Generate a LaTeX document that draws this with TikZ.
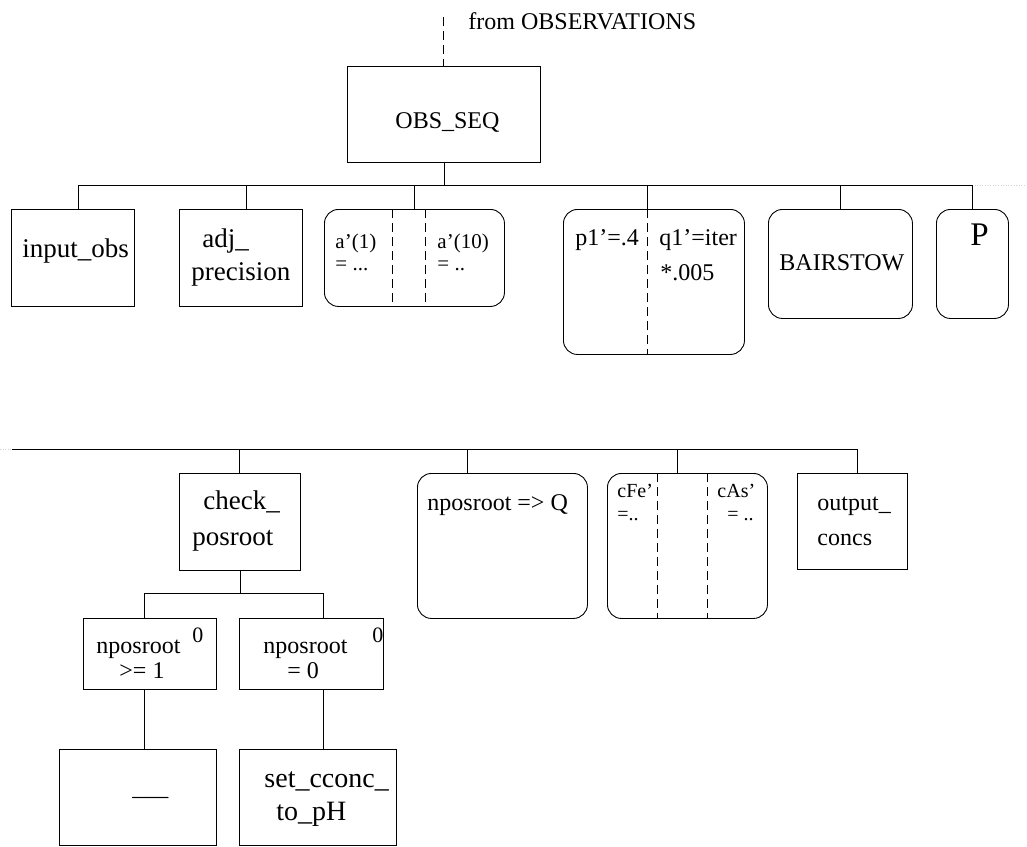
\documentclass[tikz,border=0pt]{standalone}
\usepackage{fontspec}
\setmainfont{Liberation Serif}
\usetikzlibrary{positioning, calc}

\begin{document}
\begin{tikzpicture}[x=1pt, y=-1pt, line width=0.9pt,
    box/.style={draw, anchor=north west, inner sep=0pt},
    rbox/.style={box, rounded corners=14pt},
    txt/.style={anchor=base west, inner sep=0pt, font=\fontsize{24}{28}\selectfont},
    bigtxt/.style={txt, font=\fontsize{27}{32}\selectfont},
    smalltxt/.style={txt, font=\fontsize{21}{24}\selectfont},
    split/.style={dash pattern=on 9pt off 5pt},
    faint/.style={gray!35, dotted, line width=0.6pt}]
    \useasboundingbox (0,0) rectangle (1027,846);

    % top node
    \node[box, minimum width=193, minimum height=96] (obsseq) at (347,66) {};
    \node[txt] (obsseqlbl) at (395,128) {OBS\_SEQ};
    \coordinate (obsin) at (443.5,17);
    \draw[split] (obsin) -- (obsin |- obsseq.north);
    \node[txt] (fromobs) at (468,29) {from OBSERVATIONS};

    % upper row
    \coordinate (busL) at (78,185);
    \coordinate (busR) at (972,185);
    \draw (obsseq.south) -- (obsseq.south |- busL);
    \draw (busL) -- (busR);
    \draw[faint] (busR) -- (1027,185);

    \node[box, minimum width=123, minimum height=97] (inobs) at (11,209) {};
    \node[box, minimum width=123, minimum height=97] (adjprec) at (179,209) {};
    \node[rbox, minimum width=180, minimum height=97] (abox) at (324,209) {};
    \node[rbox, minimum width=181, minimum height=145] (pqbox) at (563,209) {};
    \node[rbox, minimum width=144, minimum height=109] (bair) at (768,209) {};
    \node[rbox, minimum width=72, minimum height=109] (pbox) at (936,209) {};
    \foreach \b/\x in {inobs/78, adjprec/246, abox/414, pqbox/647, bair/840, pbox/972}
        \draw (\x,185) -- (\x,0 |- \b.north);
    \foreach \b/\x in {abox/392, abox/425, pqbox/647}
        \draw[split] (\x,0 |- \b.north) -- (\x,0 |- \b.south);

    \node[bigtxt] (inobslbl) at (22,257) {input\_obs};
    \node[bigtxt] (adjlbl) at (202,247) {adj\_};
    \node[bigtxt] (preclbl) at (191,280) {precision};
    \node[smalltxt] (a1lbl) at (335,248) {a'(1)};
    \node[smalltxt] (a1val) at (335,270) {= ...};
    \node[smalltxt] (a10lbl) at (437,248) {a'(10)};
    \node[smalltxt] (a10val) at (437,270) {= ..};
    \node[txt] (plbl) at (575,245) {p1'=.4};
    \node[txt] (qlbl) at (659,245) {q1'=iter};
    \node[txt] (qval) at (660,280) {*.005};
    \node[txt] (bairlbl) at (779,270) {BAIRSTOW};
    \node[txt, font=\fontsize{33}{36}\selectfont] (pboxlbl) at (970,245) {P};

    % lower row
    \coordinate (lowL) at (12,449);
    \coordinate (lowR) at (857,449);
    \draw (lowL) -- (lowR);
    \draw[faint] (0,449) -- (lowL);

    \node[box, minimum width=121, minimum height=97] (chkpos) at (179,473) {};
    \node[rbox, minimum width=170, minimum height=145] (nposq) at (417,473) {};
    \node[rbox, minimum width=160, minimum height=145] (cbox) at (607,473) {};
    \node[box, minimum width=110, minimum height=96] (outc) at (797,473) {};
    \foreach \b/\x in {chkpos/239.5, nposq/467, cbox/677, outc/857}
        \draw (\x,449) -- (\x,0 |- \b.north);
    \foreach \x in {657, 707}
        \draw[split] (\x,0 |- cbox.north) -- (\x,0 |- cbox.south);

    \node[bigtxt] (chklbl) at (203,509) {check\_};
    \node[bigtxt] (poslbl) at (192,545) {posroot};
    \node[txt] (nposqlbl) at (427,510) {nposroot => Q};
    \node[smalltxt, font=\fontsize{20}{24}\selectfont] (cfelbl) at (617,497) {cFe'};
    \node[smalltxt, font=\fontsize{20}{24}\selectfont] (cfeval) at (617,520) {=..};
    \node[smalltxt, font=\fontsize{20}{24}\selectfont] (caslbl) at (717,497) {cAs'};
    \node[smalltxt, font=\fontsize{20}{24}\selectfont] (casval) at (727,520) {= ..};
    \node[txt] (outlbl) at (817,510) {output\_};
    \node[txt] (concslbl) at (817,545) {concs};

    % check_posroot branches
    \node[box, minimum width=133, minimum height=71] (geqone) at (83,618) {};
    \node[box, minimum width=144, minimum height=71] (eqzero) at (239,618) {};
    \coordinate (fork) at (239.5,593);
    \draw (chkpos.south) -- (chkpos.south |- fork);
    \draw (144,0 |- geqone.north) |- (fork) -| (323,0 |- eqzero.north);

    \node[txt] (geqlbl) at (96,653) {nposroot};
    \node[txt] (geqval) at (119,678) {>= 1};
    \node[smalltxt, font=\fontsize{22}{24}\selectfont] (geqmark) at (192,642) {0};
    \node[txt] (eqlbl) at (263,653) {nposroot};
    \node[txt] (eqval) at (287,678) {= 0};
    \node[smalltxt, font=\fontsize{22}{24}\selectfont] (eqmark) at (372,642) {0};

    \node[box, minimum width=157, minimum height=96] (blank) at (59,749) {};
    \node[box, minimum width=157, minimum height=96] (setc) at (239,749) {};
    \draw (144,0 |- geqone.south) -- (144,0 |- blank.north);
    \draw (323,0 |- eqzero.south) -- (323,0 |- setc.north);

    \node[txt] (blanklbl) at (132,795) {\_\_\_};
    \node[bigtxt, font=\fontsize{28}{32}\selectfont] (setclbl) at (264,787) {set\_cconc\_};
    \node[bigtxt, font=\fontsize{28}{32}\selectfont] (tophlbl) at (276,820) {to\_pH};
\end{tikzpicture}
\end{document}
